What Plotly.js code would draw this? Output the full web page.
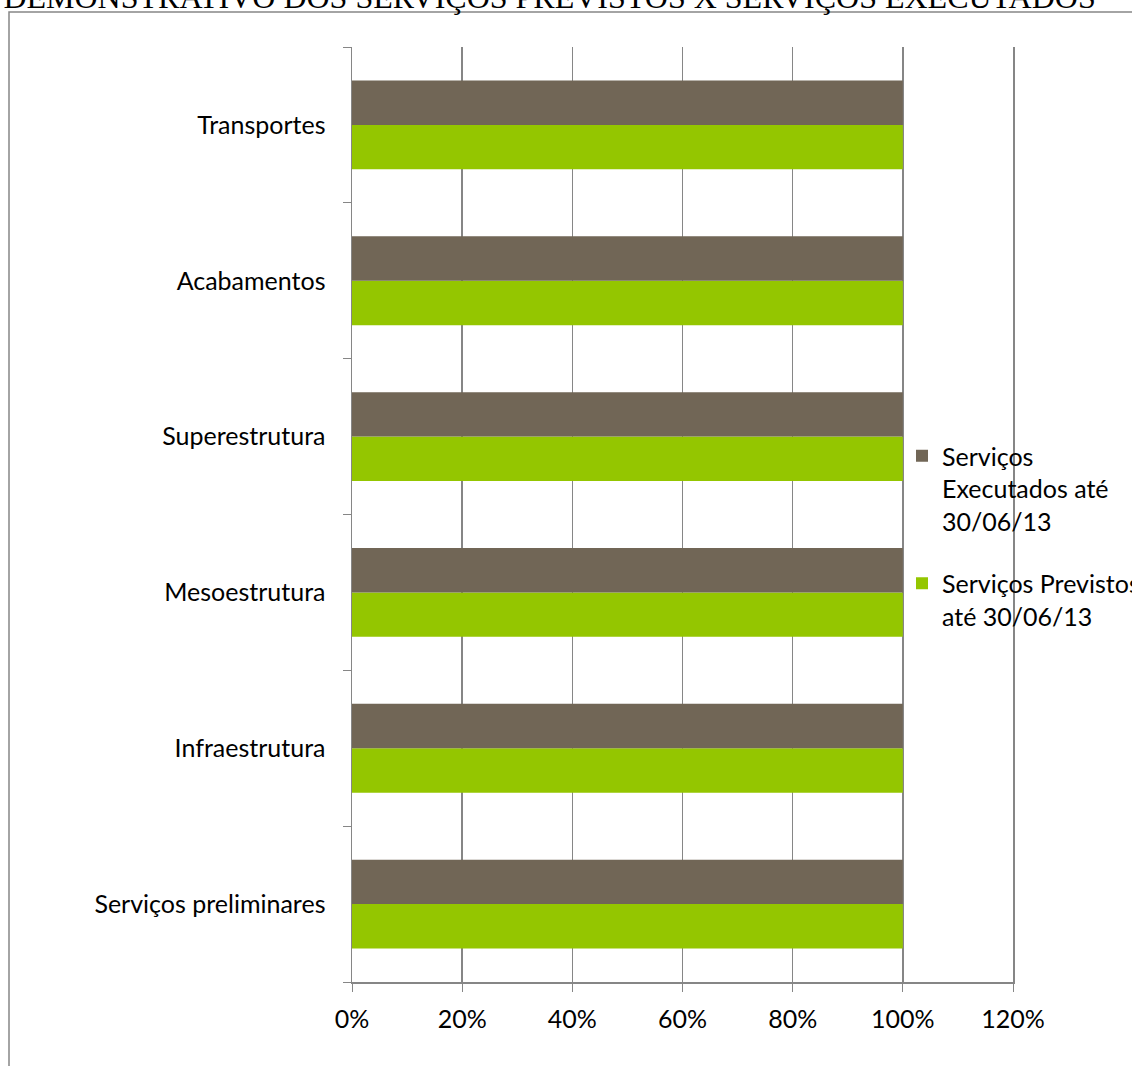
<!DOCTYPE html>
<html><head><meta charset="utf-8">
<script src="https://cdn.plot.ly/plotly-3.0.1.min.js"></script>
<style>html,body{margin:0;padding:0;background:#fff;}#chart{width:1132px;height:1066px;}</style>
</head><body><div id="chart"></div>
<script>
const categories = ['Serviços preliminares','Infraestrutura','Mesoestrutura','Superestrutura','Acabamentos','Transportes'];
const executados = [1, 1, 1, 1, 1, 1];
const previstos = [1, 1, 1, 1, 1, 1];
const seriesNames = ['Serviços<br>Executados até<br>30/06/13', 'Serviços Previstos<br>até 30/06/13'];
const titleText = 'DEMONSTRATIVO DOS SERVIÇOS PREVISTOS X SERVIÇOS EXECUTADOS';

const W = 1132, H = 1066;
const M = {l: 352, r: 119, t: 47, b: 84, autoexpand: false};
const pw = W - M.l - M.r, ph = H - M.t - M.b;
const px = x => (x - M.l) / pw;
const py = y => 1 - (y - M.t) / ph;
const FONT = 'Lato, "Open Sans", sans-serif';

const traces = [
  {type: 'bar', orientation: 'h', y: categories, x: previstos, name: seriesNames[1],
   marker: {color: '#94c600'}, legendgroup: 'b', legendrank: 2},
  {type: 'bar', orientation: 'h', y: categories, x: executados, name: seriesNames[0],
   marker: {color: '#716656'}, legendgroup: 'a', legendrank: 1}
];

const layout = {
  width: W, height: H,
  margin: M,
  paper_bgcolor: '#fff', plot_bgcolor: '#fff',
  font: {family: FONT, size: 25, color: '#000'},
  barmode: 'group', bargap: 0.43, bargroupgap: 0,
  title: {text: titleText, x: 0.003, xanchor: 'left', xref: 'container', y: 1 - 8/H, yanchor: 'bottom',
          font: {family: '"Liberation Serif", "Times New Roman", serif', size: 32, color: '#000'}},
  xaxis: {range: [0, 1.2], dtick: 0.2, tick0: 0, tickformat: '.0%', ticks: 'outside', ticklen: 8,
          tickcolor: '#868686', showline: true, linecolor: '#868686', linewidth: 1.5,
          showgrid: true, gridcolor: '#868686', gridwidth: 1.5, zeroline: false,
          tickfont: {size: 25}, ticklabelstandoff: 6, fixedrange: true},
  yaxis: {type: 'category', tickson: 'boundaries', ticks: 'outside', ticklen: 8, tickcolor: '#868686',
          showline: true, mirror: true, linecolor: '#868686', linewidth: 1.5, showgrid: false, zeroline: false,
          tickfont: {size: 25}, ticklabelstandoff: 20, fixedrange: true},
  legend: {x: px(902), xanchor: 'left', y: py(433), yanchor: 'top', bgcolor: 'rgba(0,0,0,0)',
           traceorder: 'grouped', tracegroupgap: 27, valign: 'top', font: {size: 25}, itemwidth: 30},
  showlegend: true,
  shapes: [
    {type: 'path', xref: 'paper', yref: 'paper',
     path: `M ${px(9)} ${py(1066)} L ${px(9)} ${py(12)} L ${px(1132)} ${py(12)}`,
     line: {color: '#868686', width: 1.5}}
  ]
};

Plotly.newPlot('chart', traces, layout, {displayModeBar: false, staticPlot: true});
</script></body></html>
